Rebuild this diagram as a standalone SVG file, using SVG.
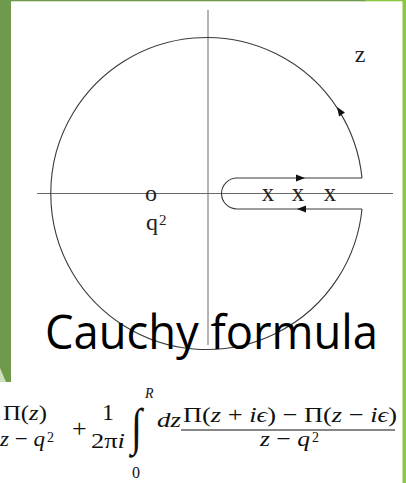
<svg xmlns="http://www.w3.org/2000/svg" xmlns:xlink="http://www.w3.org/1999/xlink" width="406" height="483" viewBox="0 0 406 483">
<style>
.ax{stroke:#6a6a6a;stroke-width:1;fill:none}
.ct{stroke:#3a3a3a;stroke-width:1.1;fill:none}
.lb{font-family:"Liberation Serif","DejaVu Serif",serif;fill:#222}
.m{font-family:"Liberation Serif","DejaVu Serif",serif;fill:#111;font-size:22px}
.it{font-style:italic}
.title{font-family:"Open Sans","Noto Sans",sans-serif;font-size:48px;fill:#000}
</style>
<defs>
<path id="ah" d="M0,0 L-9,-3.5 L-9,3.5 Z" fill="#111"/>
</defs>
<rect width="406" height="483" fill="#fff"/>
<g id="frame">
<rect x="0" y="0" width="11" height="382" fill="#6f9a4b"/>
<polygon points="0,368 6,382 0,382" fill="#cfe0c0"/>
<rect x="0" y="0" width="366" height="1.3" fill="#6f9a4b"/>
<rect x="365" y="0" width="41" height="1.3" fill="#8dc63f"/>
<rect x="402.5" y="0" width="3.5" height="483" fill="#8dc63f"/>
</g>
<g id="connectors">
<line class="ax" x1="208" y1="10" x2="208" y2="345"/>
<line class="ax" x1="37" y1="193.5" x2="393" y2="193.5"/>
<path class="ct" d="M362,178 A156,156 0 1 0 362,209"/>
<path class="ct" d="M362,178 L237,178 A15.5,15.5 0 0 0 237,209 L362,209"/>
<use xlink:href="#ah" transform="translate(305,178)"/>
<use xlink:href="#ah" transform="translate(297,209) rotate(180)"/>
<use xlink:href="#ah" transform="translate(337,107) rotate(-123.7)"/>
</g>
<g id="labels">
<text class="lb" x="360" y="62" font-size="24" text-anchor="middle">z</text>
<text class="lb" x="268" y="201" font-size="25" text-anchor="middle">x</text>
<text class="lb" x="298" y="201" font-size="25" text-anchor="middle">x</text>
<text class="lb" x="330" y="201" font-size="25" text-anchor="middle">x</text>
<text class="lb" x="151" y="201" font-size="24" text-anchor="middle">o</text>
<text class="lb" x="146" y="230" font-size="24">q</text>
<text class="lb" x="159" y="225" font-size="15">2</text>
</g>
<g id="title">
<text class="title" x="45" y="349" textLength="333" lengthAdjust="spacingAndGlyphs">Cauchy formula</text>
</g>
<g id="formula">
<text class="m" x="3" y="420" textLength="44" lengthAdjust="spacingAndGlyphs">Π(<tspan class="it">z</tspan>)</text>
<text class="m" x="0" y="446" textLength="45" lengthAdjust="spacingAndGlyphs"><tspan class="it">z</tspan> − <tspan class="it">q</tspan></text>
<text class="m" x="47" y="442" style="font-size:14px">2</text>
<text class="m" x="72" y="437" style="font-size:26px">+</text>
<text class="m" x="102" y="420" style="font-size:24px">1</text>
<text class="m" x="91" y="448" textLength="34" lengthAdjust="spacingAndGlyphs">2π<tspan class="it">i</tspan></text>
<text class="m" transform="translate(131,444) scale(1,1.28)" style="font-size:40px">∫</text>
<text class="m it" x="145" y="398" style="font-size:14px">R</text>
<text class="m" x="132" y="478" style="font-size:16px">0</text>
<text class="m it" x="157" y="427" textLength="24" lengthAdjust="spacingAndGlyphs">dz</text>
<text class="m" x="183" y="422" textLength="214" lengthAdjust="spacingAndGlyphs">Π(<tspan class="it">z</tspan> + <tspan class="it">iϵ</tspan>) − Π(<tspan class="it">z</tspan> − <tspan class="it">iϵ</tspan>)</text>
<line x1="181" y1="430" x2="395" y2="430" stroke="#111" stroke-width="1.1"/>
<text class="m" x="260" y="446" textLength="50" lengthAdjust="spacingAndGlyphs"><tspan class="it">z</tspan> − <tspan class="it">q</tspan></text>
<text class="m" x="312" y="442" style="font-size:14px">2</text>
</g>
</svg>
